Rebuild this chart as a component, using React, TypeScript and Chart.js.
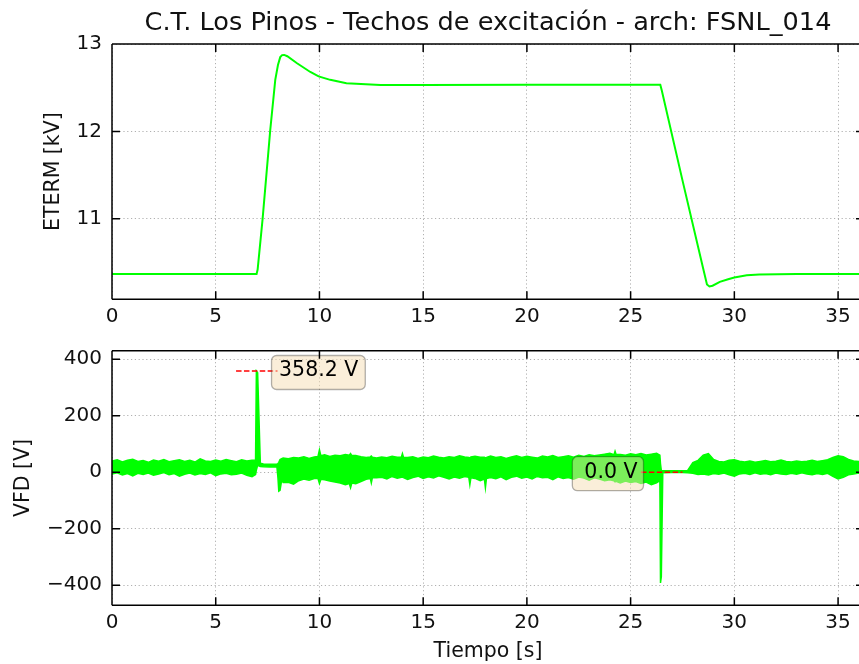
import React, { useEffect, useRef } from 'react';
import { Chart, registerables } from 'chart.js';

Chart.register(...registerables);

const FONT = "'DejaVu Sans', sans-serif";
const GREEN = '#00ff00';
const TEXT = '#111111';

const titleText = 'C.T. Los Pinos - Techos de excitación - arch: FSNL_014';
const etermLabel = 'ETERM [kV]';
const vfdLabel = 'VFD [V]';
const timeLabel = 'Tiempo [s]';

const xTicks = [0, 5, 10, 15, 20, 25, 30, 35];
const etermTicks = [11, 12, 13];
const vfdTicks = [-400, -200, 0, 200, 400];

const X_MIN = 0;
const X_MAX = 36.25;
const ETERM_MIN = 10.08;
const ETERM_MAX = 13;
const VFD_MIN = -471;
const VFD_MAX = 430;

// ETERM [kV] vs time [s]
const etermTime = [
  0, 6.97, 7.02, 7.26, 7.63, 7.87, 8.0, 8.11, 8.2, 8.3, 8.45, 8.92, 9.56, 9.96, 10.52, 11.3, 12.94, 15.0,
  20.0, 26.43, 26.5, 27.5, 28.5, 28.68, 28.8, 28.95, 29.3, 29.7, 30.0, 30.6, 31.2, 33.0, 36.5,
];
const etermValues = [
  10.37, 10.37, 10.42, 11.0, 12.02, 12.59, 12.76, 12.85, 12.873, 12.875, 12.86, 12.78, 12.68, 12.63, 12.59,
  12.55, 12.53, 12.53, 12.535, 12.535, 12.47, 11.44, 10.43, 10.25, 10.227, 10.235, 10.28, 10.31, 10.33,
  10.355, 10.365, 10.37, 10.37,
];

// VFD [V]: time, upper and lower edge of the noisy trace
const vfdTime = [
  0, 0.25, 0.5, 0.75, 1, 1.25, 1.5, 1.75, 2, 2.25, 2.5, 2.75, 3, 3.25, 3.5, 3.75, 4, 4.25, 4.5, 4.75,
  5, 5.25, 5.5, 5.75, 6, 6.25, 6.5, 6.75, 6.92,
  6.96, 7.02, 7.15, 7.3, 7.6, 7.95, 8.0, 8.04, 8.1, 8.18, 8.25,
  8.5, 8.75, 9, 9.25, 9.5, 9.75, 9.93, 10, 10.07, 10.25, 10.5, 10.75,
  11, 11.25, 11.44, 11.5, 11.56, 11.75, 12, 12.25, 12.45, 12.5, 12.55, 12.75, 13, 13.25,
  13.5, 13.75, 13.95, 14, 14.05, 14.25, 14.5, 14.75, 15, 15.25, 15.5, 15.75,
  16, 16.25, 16.5, 16.75, 17, 17.2, 17.25, 17.3, 17.5, 17.75, 17.95, 18, 18.05, 18.25,
  18.5, 18.75, 19, 19.25, 19.5, 19.75, 20, 20.25, 20.5, 20.75,
  21, 21.25, 21.5, 21.75, 22, 22.25, 22.5, 22.75, 23, 23.25,
  23.5, 23.75, 24, 24.2, 24.25, 24.3, 24.5, 24.75, 25, 25.25, 25.5, 25.75,
  26, 26.25,
  26.41, 26.44, 26.48, 26.55, 27.0, 27.5, 27.75,
  28, 28.25, 28.5, 28.75, 29, 29.25, 29.5, 29.75, 30, 30.25, 30.5, 30.75, 31, 31.25, 31.5, 31.75,
  32, 32.25, 32.5, 32.75, 33, 33.25, 33.5, 33.75, 34, 34.25, 34.5, 34.75, 35, 35.25, 35.5, 35.75,
  36, 36.25, 36.5,
];
const vfdHigh = [
  40, 44, 36, 42, 46, 38, 41, 35, 43, 39, 45, 37, 41, 44, 38, 42, 36, 47, 40, 38,
  43, 39, 45, 41, 37, 44, 40, 42, 43,
  358.2, 352, 32, 29, 28, 29, 30, 35, 45, 48, 50,
  48, 52, 50, 55, 49, 54, 56, 79, 58, 62, 56, 60,
  58, 63, 60, 66, 59, 59, 55, 52, 54, 57, 53, 50, 54, 51,
  56, 53, 54, 66, 53, 52, 55, 49, 54, 51, 57, 53,
  50, 55, 52, 58, 54, 52, 50, 54, 56, 53, 53, 51, 52, 57,
  52, 55, 49, 54, 58, 52, 56, 53, 50, 57,
  54, 59, 52, 55, 58, 53, 60, 56, 62, 58,
  61, 64, 67, 62, 74, 63, 63, 60, 65, 62, 66, 61,
  64, 67,
  60, 30, 6, 5, 5, 5, 6,
  34, 42, 60, 66, 45, 38, 36, 42, 44, 39, 36, 40, 35, 38, 41, 37,
  39, 43, 38, 36, 40, 37, 39, 42, 38, 41, 44, 52, 58, 55, 45, 40,
  38, 42, 39,
];
const vfdLow = [
  -6, -2, -10, -5, -13, -4, -8, -3, -11, -6, -1, -9, -5, -14, -7, -3, -10, -5, -8, -2,
  -12, -6, -4, -9, -7, -3, -11, -16, -8,
  8, 24, 20, 19, 18, 19, -20, -67, -64, -28, -36,
  -36, -42, -30, -24, -28, -22, -22, -40, -25, -27, -31, -35,
  -38, -44, -40, -55, -38, -41, -33, -25, -22, -38, -20, -20, -18, -24,
  -15, -21, -18, -17, -19, -26, -19, -14, -22, -16, -20, -13,
  -18, -24, -17, -21, -15, -18, -44, -20, -22, -30, -24, -55, -22, -19,
  -23, -16, -26, -18, -14, -21, -17, -24, -15, -20,
  -18, -26, -16, -22, -19, -25, -17, -21, -28, -20,
  -24, -30, -27, -30, -34, -32, -38, -31, -36, -33, -40, -35,
  -44, -38,
  -30, -392, -370, -2, -1, -1, -2,
  -4, -8, -6, -10, -5, -7, -3, -9, -14, -6, -4, -8, -2, -7, -5, -9,
  -3, -6, -8, -4, -7, -2, -6, -9, -5, -8, -4, -15, -24, -18, -9, -6,
  -3, -7, -5,
];

// Annotations: max and min markers
const annotTimes = [6.98, 26.5];
const annotValues = [358.2, 0.0];
const annotLabels = ['358.2 V', '0.0 V'];
const annotSides = ['right', 'left'];

const zip = (xs: number[], ys: number[]) => {
  const n = Math.min(xs.length, ys.length);
  const out: { x: number; y: number }[] = [];
  for (let i = 0; i < n; i++) out.push({ x: xs[i], y: ys[i] });
  return out;
};

const spinePlugin = {
  id: 'spines',
  afterDraw(chart: any) {
    const { ctx, chartArea: a } = chart;
    const xs = chart.scales.x;
    const ys = chart.scales.y;
    const tl = 8;
    ctx.save();
    ctx.setLineDash([]);
    ctx.strokeStyle = '#000';
    ctx.lineWidth = 1.5;
    ctx.beginPath();
    ctx.moveTo(a.left, a.top);
    ctx.lineTo(a.right, a.top);
    ctx.moveTo(a.left, a.bottom);
    ctx.lineTo(a.right, a.bottom);
    ctx.moveTo(a.left, a.top);
    ctx.lineTo(a.left, a.bottom);
    ctx.moveTo(a.right, a.top);
    ctx.lineTo(a.right, a.bottom);
    xs.ticks.forEach((t: any) => {
      const px = xs.getPixelForValue(t.value);
      ctx.moveTo(px, a.bottom);
      ctx.lineTo(px, a.bottom - tl);
      ctx.moveTo(px, a.top);
      ctx.lineTo(px, a.top + tl);
    });
    ys.ticks.forEach((t: any) => {
      const py = ys.getPixelForValue(t.value);
      ctx.moveTo(a.left, py);
      ctx.lineTo(a.left + tl, py);
      ctx.moveTo(a.right, py);
      ctx.lineTo(a.right - tl, py);
    });
    ctx.stroke();
    ctx.restore();
  },
};

const annotPlugin = {
  id: 'annot',
  afterDraw(chart: any) {
    const { ctx } = chart;
    const xs = chart.scales.x;
    const ys = chart.scales.y;
    const fontSize = 20.5;
    const boxH = 34;
    ctx.save();
    annotTimes.forEach((t, i) => {
      const v = annotValues[i];
      const py = ys.getPixelForValue(v);
      const x1 = xs.getPixelForValue(t - 1);
      const x2 = xs.getPixelForValue(t + 1);
      ctx.setLineDash([5.5, 2.4]);
      ctx.strokeStyle = '#ff0000';
      ctx.lineWidth = 1.5;
      ctx.beginPath();
      ctx.moveTo(x1, py);
      ctx.lineTo(x2, py);
      ctx.stroke();
      ctx.setLineDash([]);

      ctx.font = `${fontSize}px ${FONT}`;
      const label = annotLabels[i];
      const w = ctx.measureText(label).width;
      const right = annotSides[i] === 'right';
      let tx: number;
      let bx: number;
      let bw: number;
      if (right) {
        tx = x2 + 1.5;
        bx = tx - 7.5;
        bw = w + 7.5 + 7;
      } else {
        tx = x1 - 3.5;
        bx = tx - w - 12;
        bw = w + 12 + 6;
      }
      const by = py + 1.5 - boxH / 2;
      ctx.beginPath();
      (ctx as any).roundRect(bx, by, bw, boxH, 5);
      ctx.fillStyle = 'rgba(245, 222, 179, 0.5)';
      ctx.fill();
      ctx.strokeStyle = 'rgba(0, 0, 0, 0.3)';
      ctx.lineWidth = 1.3;
      ctx.stroke();
      ctx.fillStyle = '#000';
      ctx.textBaseline = 'middle';
      ctx.textAlign = right ? 'left' : 'right';
      ctx.fillText(label, tx, py);
    });
    ctx.restore();
  },
};

const gridOpts = { color: '#b0b0b0', lineWidth: 1, drawTicks: false };
const borderOpts = { display: false, dash: [1.2, 2.6] };

function xScale(height: number, showTitle: boolean) {
  return {
    type: 'linear',
    min: X_MIN,
    max: X_MAX,
    z: 1,
    afterBuildTicks: (s: any) => {
      s.ticks = xTicks.map((v) => ({ value: v }));
    },
    afterFit: (s: any) => {
      s.height = height;
      s.paddingLeft = 0;
      s.paddingRight = 0;
    },
    ticks: {
      font: { family: FONT, size: 20 },
      color: TEXT,
      padding: 5,
      maxRotation: 0,
      autoSkip: false,
      callback: (v: any) => String(v),
    },
    grid: gridOpts,
    border: borderOpts,
    title: {
      display: showTitle,
      text: timeLabel,
      font: { family: FONT, size: 20.5 },
      color: TEXT,
      padding: { top: 0, bottom: 0.5 },
    },
  };
}

function yScale(min: number, max: number, ticks: number[], label: string, titlePad: number) {
  return {
    type: 'linear',
    min,
    max,
    z: 1,
    afterBuildTicks: (s: any) => {
      s.ticks = ticks.map((v) => ({ value: v }));
    },
    afterFit: (s: any) => {
      s.width = 112;
      s.paddingTop = 0;
      s.paddingBottom = 0;
    },
    ticks: {
      font: { family: FONT, size: 20 },
      color: TEXT,
      padding: 10,
      callback: (v: any) => (v < 0 ? '\u2212' + Math.abs(v) : String(v)),
    },
    grid: gridOpts,
    border: borderOpts,
    title: {
      display: true,
      text: label,
      font: { family: FONT, size: 20.5 },
      color: TEXT,
      padding: { top: titlePad, bottom: 0 },
    },
  };
}

export default function App() {
  const topRef = useRef<HTMLCanvasElement>(null);
  const botRef = useRef<HTMLCanvasElement>(null);

  useEffect(() => {
    if (!topRef.current || !botRef.current) return;
    const top = new Chart(topRef.current, {
      type: 'line',
      data: {
        datasets: [
          {
            label: 'ETERM',
            data: zip(etermTime, etermValues),
            borderColor: GREEN,
            borderWidth: 2,
            pointRadius: 0,
            tension: 0,
            fill: false,
          },
        ],
      },
      options: {
        animation: false,
        responsive: false,
        devicePixelRatio: 1,
        layout: { padding: { top: 0, left: 0, right: 0, bottom: 0 } },
        plugins: {
          legend: { display: false },
          tooltip: { enabled: false },
          title: {
            display: true,
            text: titleText,
            fullSize: false,
            font: { family: FONT, size: 25.6, weight: 'normal', lineHeight: 1.2 },
            color: TEXT,
            padding: { top: 8.2, bottom: 5.08 },
          },
        },
        scales: {
          x: xScale(30.7, false),
          y: yScale(ETERM_MIN, ETERM_MAX, etermTicks, etermLabel, 41.7),
        },
      } as any,
      plugins: [spinePlugin],
    });

    const bot = new Chart(botRef.current, {
      type: 'line',
      data: {
        datasets: [
          {
            label: 'VFD low',
            data: zip(vfdTime, vfdLow),
            borderColor: GREEN,
            borderWidth: 1.5,
            pointRadius: 0,
            tension: 0,
            fill: false,
          },
          {
            label: 'VFD high',
            data: zip(vfdTime, vfdHigh),
            borderColor: GREEN,
            backgroundColor: GREEN,
            borderWidth: 1.5,
            pointRadius: 0,
            tension: 0,
            fill: '-1',
          },
        ],
      },
      options: {
        animation: false,
        responsive: false,
        devicePixelRatio: 1,
        layout: { padding: { top: 20.7, left: 0, right: 0, bottom: 0 } },
        plugins: {
          legend: { display: false },
          tooltip: { enabled: false },
          title: { display: false },
        },
        scales: {
          x: xScale(58.7, true),
          y: yScale(VFD_MIN, VFD_MAX, vfdTicks, vfdLabel, 11),
        },
      } as any,
      plugins: [annotPlugin, spinePlugin],
    });

    return () => {
      top.destroy();
      bot.destroy();
    };
  }, []);

  return (
    <div
      style={{
        position: 'absolute',
        left: 0,
        top: 0,
        width: 859,
        height: 664,
        overflow: 'hidden',
        background: '#ffffff',
      }}
    >
      <canvas ref={topRef} width={864} height={330} style={{ position: 'absolute', left: 0, top: 0 }} />
      <canvas ref={botRef} width={864} height={334} style={{ position: 'absolute', left: 0, top: 330 }} />
    </div>
  );
}
